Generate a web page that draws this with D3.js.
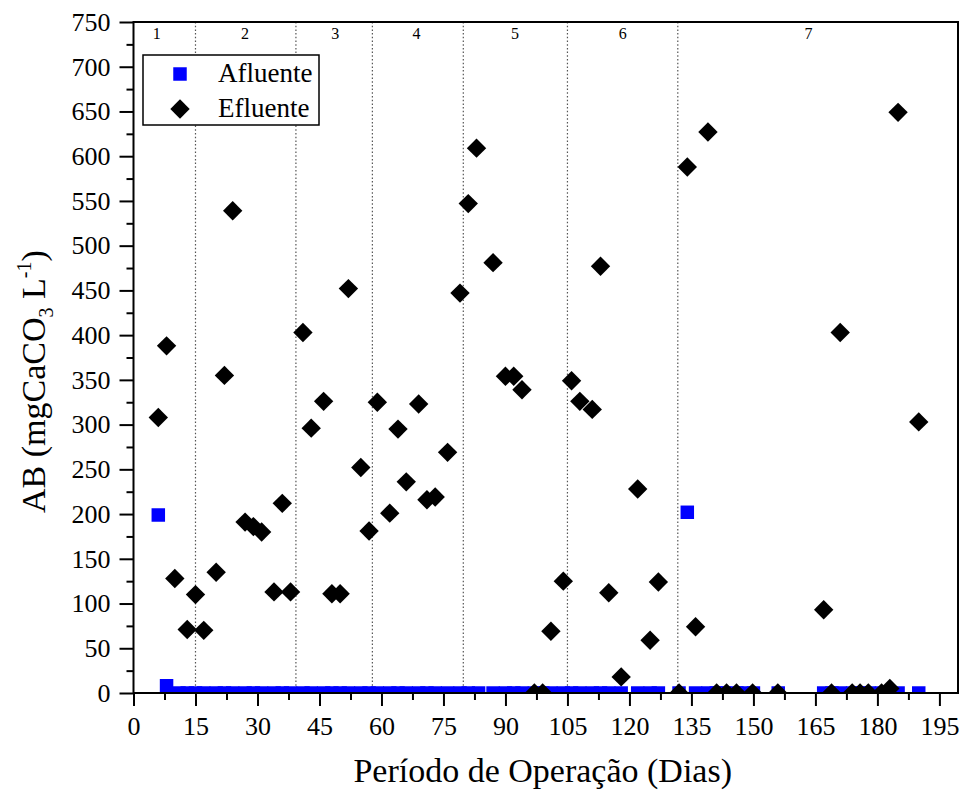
<!DOCTYPE html>
<html>
<head>
<meta charset="utf-8">
<script src="https://cdn.jsdelivr.net/npm/d3@7/dist/d3.min.js"></script>
<style>
  html, body { margin: 0; padding: 0; background: #fff; }
  svg { display: block; }
  text { font-family: "Liberation Serif", "Times New Roman", serif; fill: #000; }
</style>
</head>
<body>
<svg id="chart" width="962" height="796"></svg>
<script>
// ---------------- DATA ----------------
const xTickValues = [0, 15, 30, 45, 60, 75, 90, 105, 120, 135, 150, 165, 180, 195];
const yTickValues = [0, 50, 100, 150, 200, 250, 300, 350, 400, 450, 500, 550, 600, 650, 700, 750];

// Effluent (Efluente) : day, AB (mgCaCO3/L)
const efluenteDays = [6, 8, 10, 13, 15, 17, 20, 22, 24, 27, 29, 31, 34, 36, 38, 41, 43, 46, 48, 50,
  52, 55, 57, 59, 62, 64, 66, 69, 71, 73, 76, 79, 81, 83, 87, 90, 92, 94, 97, 99,
  101, 104, 106, 108, 111, 113, 115, 118, 122, 125, 127, 132, 134, 136, 139, 141.1, 143.5, 145.9, 149.8, 155.9,
  167, 168.9, 171, 173.9, 175.8, 177.8, 181, 183, 185, 190];
const efluenteValues = [308, 388, 128, 71, 110, 70, 135, 355, 539, 191, 186, 180, 113, 212, 113, 403, 296, 326, 111, 111,
  452, 252, 181, 325, 201, 295, 236, 323, 216, 219, 269, 447, 547, 609, 481, 354, 354, 339, 0, 0,
  69, 125, 349, 326, 317, 477, 112, 18, 228, 59, 124, 0, 588, 74, 627, 0, 0, 0, 0, 0,
  93, 0, 403, 0, 0, 0, 0, 5, 649, 303];

// Influent (Afluente) : day, AB (mgCaCO3/L)
const afluenteDays = [6, 8, 11, 13, 15, 17, 20, 22, 24, 27, 29, 31, 34, 36, 38, 41, 43, 46, 48, 50,
  52, 55, 57, 59, 62, 64, 66, 69, 71, 73, 76, 79, 81, 83.5, 87, 90, 92, 94, 97, 99,
  101, 104, 106, 108, 111, 113, 115, 118, 122, 125, 127, 132, 134, 136, 139, 141, 143, 146, 148, 150,
  156, 167, 169, 171, 174, 176, 178, 181, 183, 185, 190];
const afluenteValues = [199, 8, 0, 0, 0, 0, 0, 0, 0, 0, 0, 0, 0, 0, 0, 0, 0, 0, 0, 0,
  0, 0, 0, 0, 0, 0, 0, 0, 0, 0, 0, 0, 0, 0, 0, 0, 0, 0, 0, 0,
  0, 0, 0, 0, 0, 0, 0, 0, 0, 0, 0, 0, 202, 0, 0, 0, 0, 0, 0, 0,
  0, 0, 0, 0, 0, 0, 0, 0, 0, 0, 0];

// Operation phases
const phaseBoundaries = [15, 39.3, 57.8, 79.8, 105, 131.7];
const phaseLabels = ["1", "2", "3", "4", "5", "6", "7"];
const phaseLabelPos = [5.6, 27, 48.8, 68.5, 92.3, 118.4, 163.3];

const seriesNames = ["Afluente", "Efluente"];
const xTitle = "Período de Operação (Dias)";

// ---------------- LAYOUT ----------------
const svg = d3.select("#chart");
const L = 133.5, R = 958, T = 22, B = 693;
const x = d3.scaleLinear().domain([0, 199.5]).range([L, R]);
const y = d3.scaleLinear().domain([0, 750]).range([B, T]);
const FONT = "'Liberation Serif', 'Times New Roman', serif";

svg.append("defs").append("clipPath").attr("id", "plotclip")
  .append("rect").attr("x", L).attr("y", T).attr("width", R - L).attr("height", B - T);

// Phase dotted lines
const gPhase = svg.append("g");
gPhase.selectAll("line").data(phaseBoundaries).join("line")
  .attr("x1", d => x(d)).attr("x2", d => x(d))
  .attr("y1", T).attr("y2", B)
  .attr("stroke", "#555").attr("stroke-width", 1.2)
  .attr("stroke-dasharray", "1.5,2.2");
gPhase.selectAll("text").data(phaseLabels).join("text")
  .attr("x", (d, i) => x(phaseLabelPos[i]))
  .attr("y", 39)
  .attr("text-anchor", "middle")
  .style("font-size", "16px")
  .text(d => d);

// Data marks
const gData = svg.append("g").attr("clip-path", "url(#plotclip)");
const sq = d3.symbol().type(d3.symbolSquare).size(182);
const dm = d3.symbol().type(d3.symbolSquare).size(188);

gData.append("g").selectAll("path").data(afluenteDays.map((d, i) => [d, afluenteValues[i]])).join("path")
  .attr("d", sq)
  .attr("transform", d => `translate(${x(d[0])},${y(d[1])})`)
  .attr("fill", "#0000ff");

gData.append("g").selectAll("path").data(efluenteDays.map((d, i) => [d, efluenteValues[i]])).join("path")
  .attr("d", dm)
  .attr("transform", d => `translate(${x(d[0])},${y(d[1])}) rotate(45)`)
  .attr("fill", "#000");

// Axes
const xAxis = svg.append("g").attr("transform", `translate(0,${B})`)
  .call(d3.axisBottom(x).tickValues(xTickValues).tickSizeInner(13).tickSizeOuter(0).tickPadding(11));
const xMinor = svg.append("g").attr("transform", `translate(0,${B})`)
  .call(d3.axisBottom(x).tickValues(xTickValues.slice(0, -1).map(v => v + 7.5)).tickSize(7).tickFormat(""));
const yAxis = svg.append("g").attr("transform", `translate(${L},0)`)
  .call(d3.axisLeft(y).tickValues(yTickValues).tickSizeInner(14).tickSizeOuter(0).tickPadding(9));
const yMinor = svg.append("g").attr("transform", `translate(${L},0)`)
  .call(d3.axisLeft(y).tickValues(yTickValues.slice(0, -1).map(v => v + 25)).tickSize(7).tickFormat(""));

[xAxis, xMinor, yAxis, yMinor].forEach(g => {
  g.select(".domain").remove();
  g.selectAll(".tick line").attr("stroke", "#000").attr("stroke-width", 2);
  g.selectAll(".tick text").style("font-family", FONT).style("font-size", "26px").attr("fill", "#000");
});

// Frame
svg.append("rect").attr("x", L).attr("y", T).attr("width", R - L).attr("height", B - T)
  .attr("fill", "none").attr("stroke", "#000").attr("stroke-width", 2);

// Axis titles
svg.append("text")
  .attr("x", (L + R) / 2 - 3).attr("y", 782)
  .attr("text-anchor", "middle")
  .style("font-size", "34px")
  .text(xTitle);

const yt = svg.append("text")
  .attr("transform", "translate(45,513) rotate(-90)")
  .attr("text-anchor", "start")
  .style("font-size", "34px");
yt.append("tspan").text("AB (mgCaCO");
yt.append("tspan").attr("dy", 8).style("font-size", "20px").text("3");
yt.append("tspan").attr("dy", -8).text(" L");
yt.append("tspan").attr("dy", -14).style("font-size", "20px").text("-1");
yt.append("tspan").attr("dy", 14).text(")");

// Legend
const leg = svg.append("g");
leg.append("rect").attr("x", 143).attr("y", 55).attr("width", 176).attr("height", 70)
  .attr("fill", "#fff").attr("stroke", "#000").attr("stroke-width", 1.5);
leg.append("path").attr("d", sq).attr("transform", "translate(180,74)").attr("fill", "#0000ff");
leg.append("path").attr("d", dm).attr("transform", "translate(180,109) rotate(45)").attr("fill", "#000");
leg.selectAll("text.lt").data(seriesNames).join("text").attr("class", "lt")
  .attr("x", 218).attr("y", (d, i) => 82 + i * 35)
  .style("font-size", "27px")
  .text(d => d);
</script>
</body>
</html>
